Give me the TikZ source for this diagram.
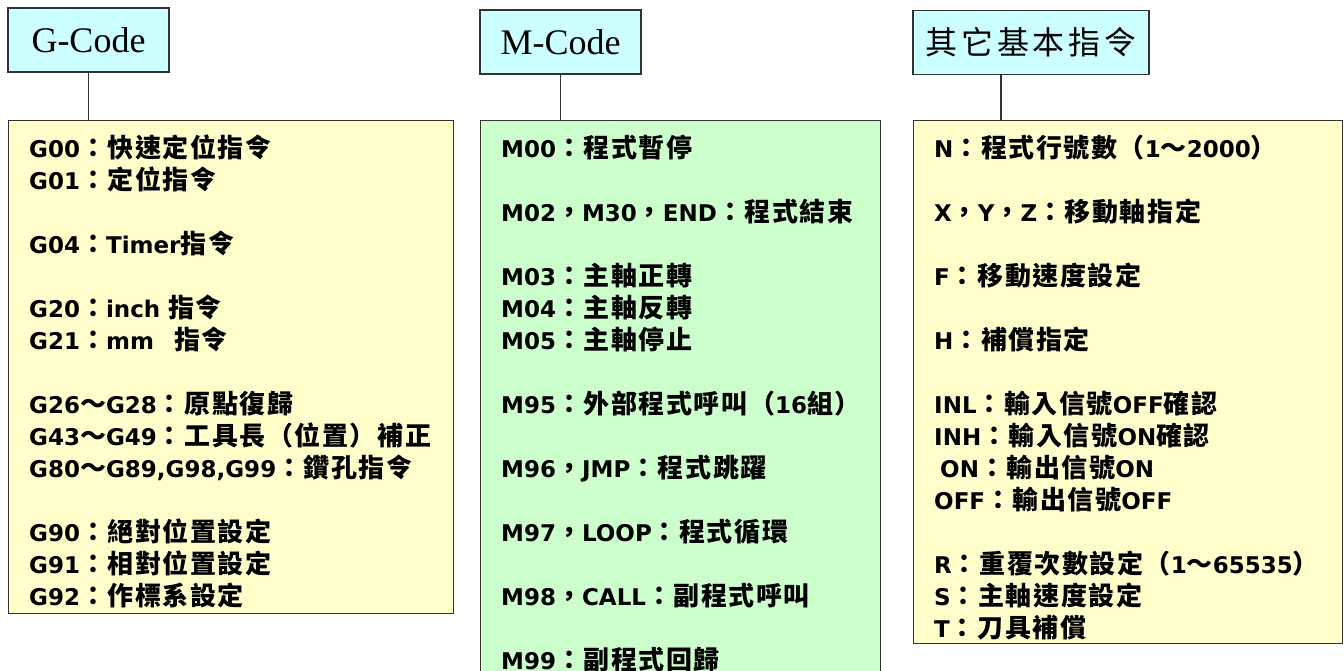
\documentclass[tikz,border=0pt]{standalone}
\usepackage{fontspec}
\setmainfont{DejaVu Sans}
\newfontfamily\cjkfont{Noto Sans CJK TC}[LetterSpace=6]
\newfontfamily\headcjk{Noto Sans CJK TC}[LetterSpace=12]
\newfontfamily\headserif{Liberation Serif}
\definecolor{headcyan}{HTML}{CCFFFF}
\definecolor{listyellow}{HTML}{FFFFCC}
\definecolor{listgreen}{HTML}{CCFFCC}
\newcommand\zh[1]{{\cjkfont\fontsize{26}{32}\selectfont #1}}
\newcommand\listfont{\fontsize{23}{32}\selectfont\bfseries\lineskiplimit=-100pt}
\tikzset{
  head/.style={draw=black!80, line width=1.2pt, fill=headcyan, minimum height=64pt, inner sep=0pt},
  body/.style={draw=black!80, line width=1.2pt, anchor=north west, inner sep=0pt},
  list/.style={anchor=north west, inner sep=0pt, align=left, text width=#1, font=\listfont},
  link/.style={draw=black!80, line width=1.2pt}
}
\begin{document}
\begin{tikzpicture}[x=1pt,y=-1pt]
\path[fill=white, use as bounding box] (0,0) rectangle (1344,670);
% headers
\node[head, minimum width=161pt, font=\headserif\fontsize{36}{40}\selectfont] (gcode) at (88.5,40) {G-Code};
\node[head, minimum width=161pt, font=\headserif\fontsize{36}{40}\selectfont] (mcode) at (560.5,42) {M-Code};
\node[head, minimum width=236pt, font=\headcjk\fontsize{32}{40}\selectfont] (other) at (1031,42.5) {其它基本指令};
% boxes
\node[body, fill=listyellow, minimum width=445pt, minimum height=493pt] (gbody) at (8,120) {};
\node[body, fill=listgreen, minimum width=400pt, minimum height=560pt] (mbody) at (480,120) {};
\node[body, fill=listyellow, minimum width=429pt, minimum height=523pt] (obody) at (913,120) {};
% links
\draw[link] (gcode) -- (gcode |- gbody.north);
\draw[link] (mcode) -- (mcode |- mbody.north);
\path ([xshift=88pt]obody.north west) coordinate (ojoin);
\draw[link] (ojoin) -- (ojoin |- other.south);
% G-Code
\node[list=420pt] (glist) at (29,131) {\rule{0pt}{26pt}G00\zh{：快速定位指令}\\
G01\zh{：定位指令}\\[32pt]
G04\zh{：}Timer\zh{指令}\\[32pt]
G20\zh{：}inch \zh{指令}\\
G21\zh{：}mm\hspace{20pt}\zh{指令}\\[32pt]
G26\zh{～}G28\zh{：原點復歸}\\
G43\zh{～}G49\zh{：工具長（位置）補正}\\
G80\zh{～}G89,G98,G99\zh{：鑽孔指令}\\[32pt]
G90\zh{：絕對位置設定}\\
G91\zh{：相對位置設定}\\
G92\zh{：作標系設定}};
% M-Code
\node[list=375pt] (mlist) at (501,131) {\rule{0pt}{26pt}M00\zh{：程式暫停}\\[32pt]
M02\zh{，}M30\zh{，}END\zh{：程式結束}\\[32pt]
M03\zh{：主軸正轉}\\
M04\zh{：主軸反轉}\\
M05\zh{：主軸停止}\\[32pt]
M95\zh{：外部程式呼叫（}16\zh{組）}\\[32pt]
M96\zh{，}JMP\zh{：程式跳躍}\\[32pt]
M97\zh{，}LOOP\zh{：程式循環}\\[32pt]
M98\zh{，}CALL\zh{：副程式呼叫}\\[32pt]
M99\zh{：副程式回歸}};
% others
\node[list=405pt] (olist) at (934,131) {\rule{0pt}{26pt}N\zh{：程式行號數（}1\zh{～}2000\zh{）}\\[32pt]
X\zh{，}Y\zh{，}Z\zh{：移動軸指定}\\[32pt]
F\zh{：移動速度設定}\\[32pt]
H\zh{：補償指定}\\[32pt]
INL\zh{：輸入信號}OFF\zh{確認}\\
INH\zh{：輸入信號}ON\zh{確認}\\
\hspace*{6pt}ON\zh{：輸出信號}ON\\
OFF\zh{：輸出信號}OFF\\[32pt]
R\zh{：重覆次數設定（}1\zh{～}65535\zh{）}\\
S\zh{：主軸速度設定}\\
T\zh{：刀具補償}};
\end{tikzpicture}
\end{document}
